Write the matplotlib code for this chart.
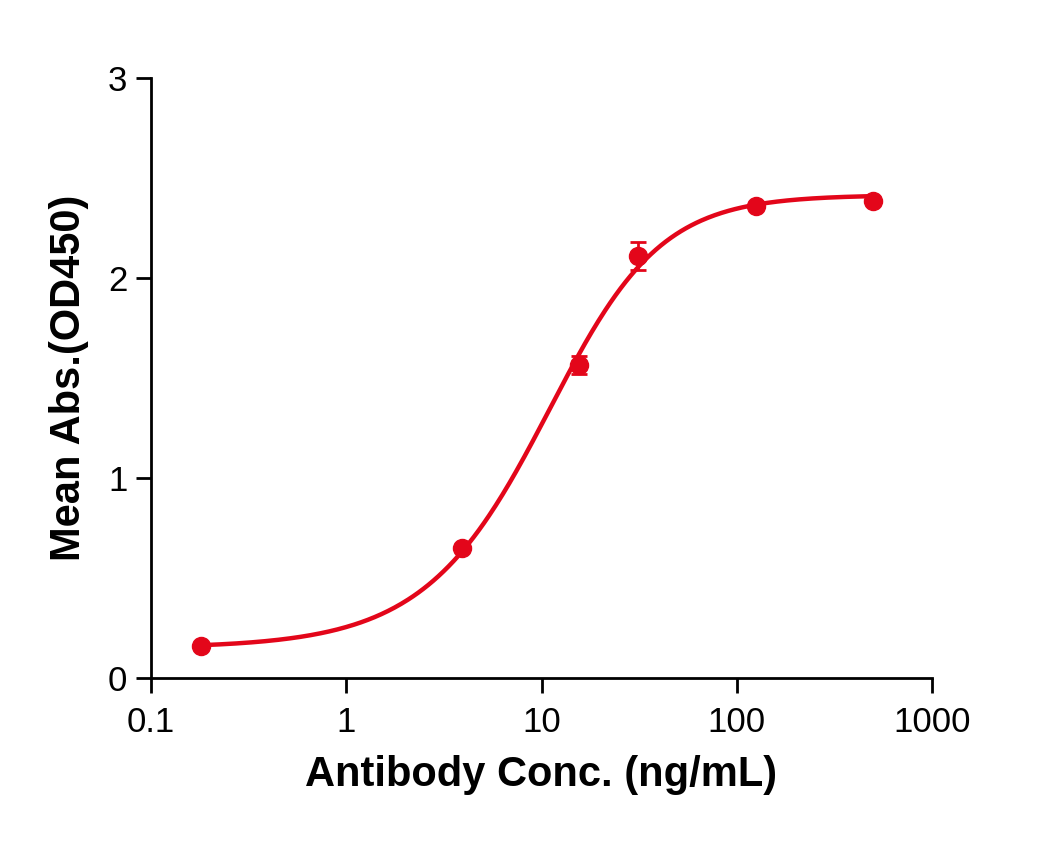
import numpy as np
import matplotlib.pyplot as plt

plt.rcParams['font.family'] = ['Liberation Sans', 'DejaVu Sans']

# measured points
conc = [0.18, 3.9, 15.6, 31.25, 125, 500]
od = [0.16, 0.648, 1.565, 2.11, 2.36, 2.385]
od_err = [0.0, 0.0, 0.045, 0.07, 0.0, 0.0]

# 5PL fit parameters (bottom, top, EC50, hill, asymmetry)
fit_bottom = 0.15
fit_top = 2.415
fit_ec50 = 13.3
fit_hill = 1.576
fit_asym = 0.75

red = '#E3061A'

def FivePL(x, b, t, c, h, s):
	return b + (t - b) / (1 + (c / x) ** h) ** s

fig = plt.figure(figsize=(10.57, 8.49), dpi=100)
ax = fig.add_axes([0.1429, 0.2014, 0.8817 - 0.1429, 0.9081 - 0.2014])

xs = np.logspace(np.log10(min(conc)), np.log10(max(conc)), 400)
ax.plot(xs, FivePL(xs, fit_bottom, fit_top, fit_ec50, fit_hill, fit_asym), color=red, lw=3.2, zorder=2)
ax.errorbar(conc, od, yerr=od_err, fmt='o', color=red, ms=13, capsize=6, elinewidth=2, capthick=2, zorder=3)

ax.set_xscale('log')
ax.set_xlim(0.1, 1000)
ax.set_ylim(0, 3)
ax.set_xticks([0.1, 1, 10, 100, 1000])
ax.set_xticklabels(['0.1', '1', '10', '100', '1000'])
ax.xaxis.set_minor_locator(plt.NullLocator())
ax.set_yticks([0, 1, 2, 3])
ax.set_yticklabels(['0', '1', '2', '3'])

for s in ['top', 'right']:
	ax.spines[s].set_visible(False)
for s in ['left', 'bottom']:
	ax.spines[s].set_linewidth(2)
ax.tick_params(axis='both', which='major', length=11, width=2, labelsize=25, pad=6, direction='out')
ax.tick_params(axis='x', pad=9)

ax.set_xlabel('Antibody Conc. (ng/mL)', fontsize=30, fontweight='bold', labelpad=12)
ax.set_ylabel('Mean Abs.(OD450)', fontsize=30, fontweight='bold', labelpad=14)

plt.savefig('out.png', dpi=100)
